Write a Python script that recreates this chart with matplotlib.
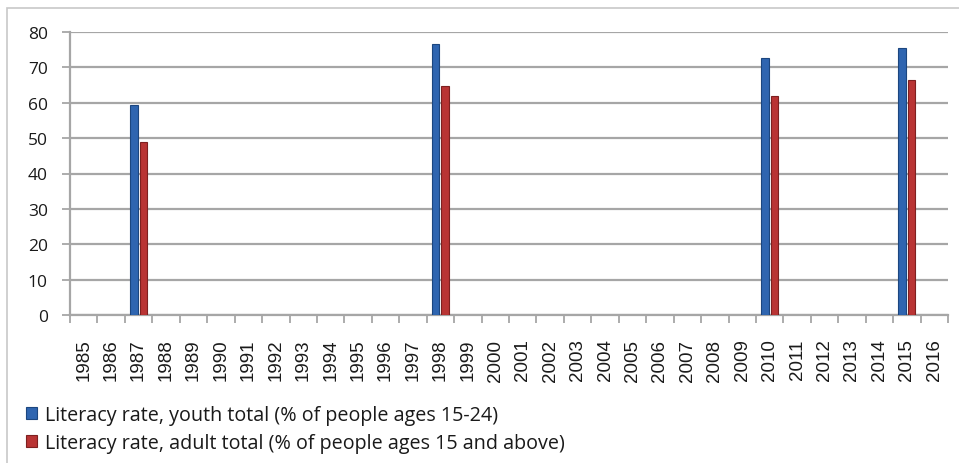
import matplotlib
matplotlib.use("Agg")
import matplotlib.pyplot as plt
from matplotlib.patches import Rectangle
import numpy as np

years = list(range(1985, 2017))
youth_years = [1987, 1998, 2010, 2015]
youth_values = [59.4, 76.6, 72.6, 75.5]
adult_years = [1987, 1998, 2010, 2015]
adult_values = [48.9, 64.6, 62.0, 66.5]
y_ticks = [0, 10, 20, 30, 40, 50, 60, 70, 80]

blue = "#2f65b0"
blue_edge = "#1c467f"
red = "#b93434"
red_edge = "#7e2020"
grid_col = "#a6a6a6"

fig = plt.figure(figsize=(9.59, 4.64), dpi=100)
fig.patch.set_facecolor("white")

# chart frame
fig.add_artist(Rectangle((7 / 959, -0.01), 1.02, (464 - 9) / 464 + 0.01,
                         transform=fig.transFigure, fill=False,
                         edgecolor="#c8c8c8", linewidth=1.2))

ax = fig.add_axes([70 / 959, 1 - 316 / 464, 878 / 959, (316 - 33) / 464])

idx = {y: i for i, y in enumerate(years)}
w = 0.28
off = 0.175
xb = [idx[y] - off for y in youth_years]
xr = [idx[y] + off for y in adult_years]
ax.bar(xb, youth_values, width=w, color=blue, edgecolor=blue_edge,
       linewidth=0.8, zorder=3,
       label="Literacy rate, youth total (% of people ages 15-24)")
ax.bar(xr, adult_values, width=w, color=red, edgecolor=red_edge,
       linewidth=0.8, zorder=3,
       label="Literacy rate, adult total (% of people ages 15 and above)")

ax.set_xlim(-0.5, len(years) - 0.5)
ax.set_ylim(0, 80)
ax.set_yticks(y_ticks)
ax.set_yticklabels([str(v) for v in y_ticks], fontfamily="Open Sans",
                   fontsize=12.5, color="#1a1a1a")
ax.yaxis.grid(True, color=grid_col, linewidth=1.6, zorder=0)
ax.set_axisbelow(True)

ax.set_xticks(np.arange(len(years)))
ax.set_xticklabels([str(y) for y in years], rotation=90,
                   fontfamily="Liberation Sans", fontsize=13.5, color="#1a1a1a")
ax.set_xticks(np.arange(len(years) + 1) - 0.5, minor=True)
ax.tick_params(axis="x", which="major", length=0, pad=17)
ax.tick_params(axis="x", which="minor", length=6, color=grid_col, width=1.3)
ax.tick_params(axis="y", length=6, color=grid_col, width=1.3, pad=10)

for s in ["top", "right"]:
    ax.spines[s].set_visible(False)
for s in ["left", "bottom"]:
    ax.spines[s].set_color(grid_col)
    ax.spines[s].set_linewidth(1.6)

leg = fig.legend(loc="upper left", bbox_to_anchor=(26 / 959, 1 - 406 / 464),
                 frameon=False, prop={"family": "Open Sans", "size": 14.2},
                 handlelength=0.55, handleheight=0.55, handletextpad=0.4,
                 labelspacing=0.42, borderaxespad=0, borderpad=0)
for t in leg.get_texts():
    t.set_color("#1a1a1a")

fig.savefig("out.png", dpi=100, facecolor="white")
